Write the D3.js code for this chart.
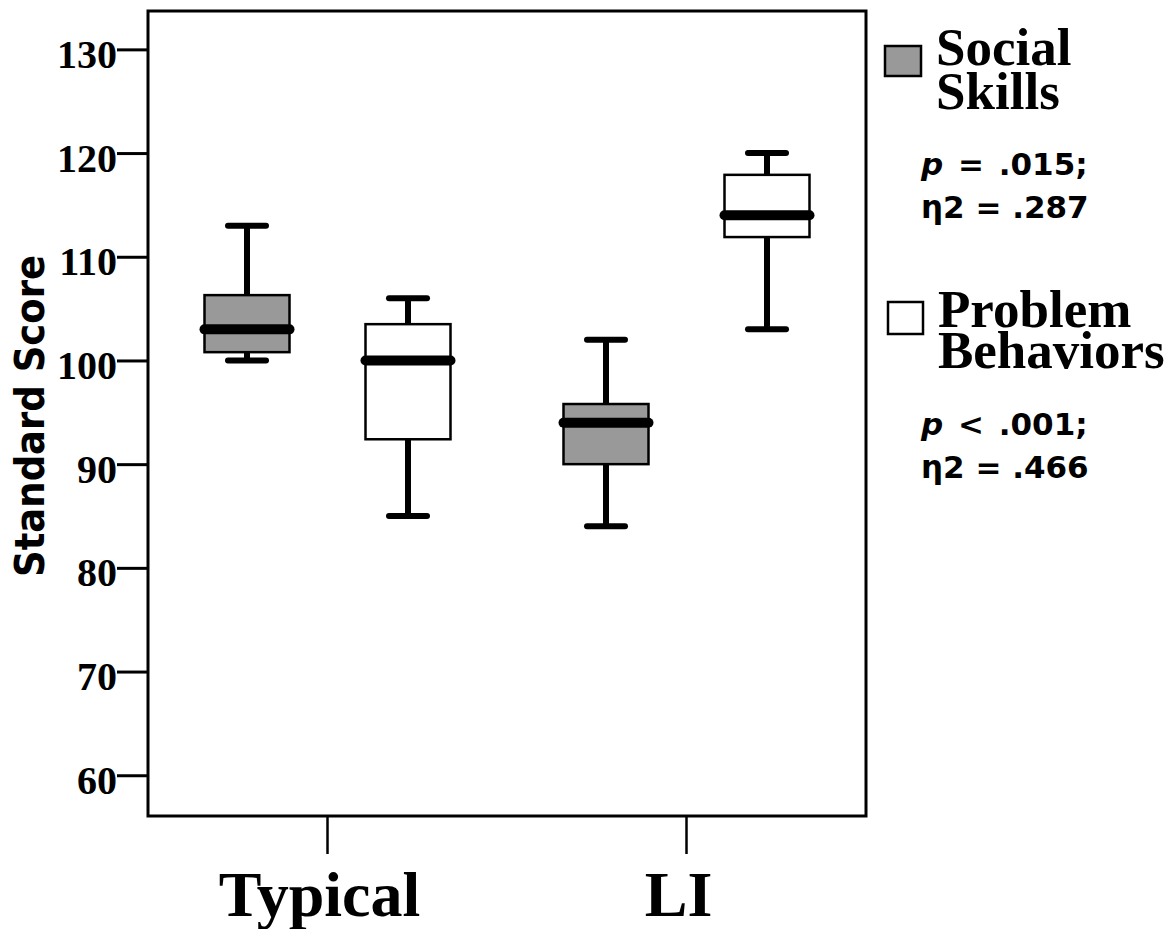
<!DOCTYPE html>
<html>
<head>
<meta charset="utf-8">
<script src="https://cdn.jsdelivr.net/npm/d3@7"></script>
<style>
  html, body { margin: 0; padding: 0; background: #fff; }
  svg { display: block; }
</style>
</head>
<body>
<svg id="chart" width="1166" height="929"></svg>
<script>
// ---- data ----
const groups = ["Typical", "LI"];
const series = ["Social Skills", "Problem Behaviors"];
const yTicks = [60, 70, 80, 90, 100, 110, 120, 130];

const socialMin = [100, 84];
const socialQ1 = [100.8, 90];
const socialMedian = [103, 94];
const socialQ3 = [106.3, 95.8];
const socialMax = [113, 102];

const problemMin = [85, 103];
const problemQ1 = [92.4, 111.9];
const problemMedian = [100, 114];
const problemQ3 = [103.5, 117.9];
const problemMax = [106, 120];

const legendLines = [["Social", "Skills"], ["Problem", "Behaviors"]];
const statsP = ["= .015;", "< .001;"];
const statsEta = ["η2 = .287", "η2 = .466"];
const fills = ["#999999", "#ffffff"];

// ---- build ----
const svg = d3.select("#chart");
const plotLeft = 148, plotRight = 866, plotTop = 11, plotBottom = 816;

const x = d3.scaleBand().domain(groups).range([plotLeft, plotRight]);
const xs = d3.scalePoint().domain(series).range([-80.5, 80.5]);
const y = d3.scaleLinear().domain([56.07, 133.7]).range([plotBottom, plotTop]);
const boxW = 85;

const stats = [];
groups.forEach((g, i) => {
  stats.push({g, s: series[0], min: socialMin[i], q1: socialQ1[i], med: socialMedian[i], q3: socialQ3[i], max: socialMax[i], fill: fills[0]});
  stats.push({g, s: series[1], min: problemMin[i], q1: problemQ1[i], med: problemMedian[i], q3: problemQ3[i], max: problemMax[i], fill: fills[1]});
});

// frame
svg.append("rect")
  .attr("x", plotLeft).attr("y", plotTop)
  .attr("width", plotRight - plotLeft).attr("height", plotBottom - plotTop)
  .attr("fill", "none").attr("stroke", "#000").attr("stroke-width", 3);

const serif = "'Liberation Serif', 'Times New Roman', serif";
const sans = "'DejaVu Sans', Verdana, sans-serif";

// y axis
const yAxis = svg.append("g")
  .attr("transform", `translate(${plotLeft},0)`)
  .call(d3.axisLeft(y).tickValues(yTicks).tickSize(31).tickPadding(0).tickFormat(d3.format("d")));
yAxis.select(".domain").remove();
yAxis.selectAll(".tick line").attr("stroke", "#000").attr("stroke-width", 3);
yAxis.selectAll(".tick text")
  .attr("x", -31).attr("dy", "0.45em")
  .attr("fill", "#000")
  .style("font-family", serif)
  .style("font-weight", "bold").style("font-size", "40px");

// x axis
const xAxis = svg.append("g")
  .attr("transform", `translate(0,${plotBottom})`)
  .call(d3.axisBottom(x).tickSize(38).tickPadding(0));
xAxis.select(".domain").remove();
xAxis.selectAll(".tick line").attr("stroke", "#000").attr("stroke-width", 2.5);
xAxis.selectAll(".tick text")
  .attr("x", -8).attr("y", 100).attr("dy", 0)
  .attr("fill", "#000")
  .style("font-family", serif)
  .style("font-weight", "bold").style("font-size", "64px");

// y axis title
svg.append("text")
  .attr("transform", `translate(44,416) rotate(-90)`)
  .attr("text-anchor", "middle")
  .attr("textLength", 322).attr("lengthAdjust", "spacingAndGlyphs")
  .style("font-family", sans)
  .style("font-weight", "bold").style("font-size", "41px")
  .text("Standard Score");

// boxes
const bx = d => x(d.g) + x.bandwidth() / 2 + xs(d.s);
const boxes = svg.append("g").selectAll("g").data(stats).join("g");
boxes.append("line")
  .attr("x1", bx).attr("x2", bx)
  .attr("y1", d => y(d.min)).attr("y2", d => y(d.max))
  .attr("stroke", "#000").attr("stroke-width", 6);
boxes.selectAll(".cap").data(d => [d.min, d.max].map(v => ({c: bx(d), v})))
  .join("line").attr("class", "cap")
  .attr("x1", d => d.c - 19).attr("x2", d => d.c + 19)
  .attr("y1", d => y(d.v)).attr("y2", d => y(d.v))
  .attr("stroke", "#000").attr("stroke-width", 6).attr("stroke-linecap", "round");
boxes.append("rect")
  .attr("x", d => bx(d) - boxW / 2).attr("width", boxW)
  .attr("y", d => y(d.q3)).attr("height", d => y(d.q1) - y(d.q3))
  .attr("fill", d => d.fill).attr("stroke", "#000").attr("stroke-width", 2.5);
boxes.append("line")
  .attr("x1", d => bx(d) - boxW / 2).attr("x2", d => bx(d) + boxW / 2)
  .attr("y1", d => y(d.med)).attr("y2", d => y(d.med))
  .attr("stroke", "#000").attr("stroke-width", 10).attr("stroke-linecap", "round");

// legend
const legendSq = [{x: 885, y: 46, w: 36, h: 30}, {x: 888, y: 302, w: 35, h: 32}];
const legendText = [{x: 936, y: 65, dy: 44}, {x: 938, y: 327, dy: 41}];
const statsPos = [{y: 175}, {y: 435}];

series.forEach((s, i) => {
  svg.append("rect")
    .attr("x", legendSq[i].x).attr("y", legendSq[i].y)
    .attr("width", legendSq[i].w).attr("height", legendSq[i].h)
    .attr("fill", fills[i]).attr("stroke", "#000").attr("stroke-width", 2.5);
  const lt = svg.append("text")
    .attr("x", legendText[i].x).attr("y", legendText[i].y)
    .style("font-family", serif).style("font-weight", "bold").style("font-size", "53px");
  legendLines[i].forEach((line, j) => {
    lt.append("tspan")
      .attr("x", legendText[i].x).attr("dy", j === 0 ? 0 : legendText[i].dy)
      .text(line);
  });
  const st = svg.append("text")
    .attr("x", 921).attr("y", statsPos[i].y)
    .style("font-family", sans).style("font-weight", "bold").style("font-size", "31px");
  st.append("tspan").style("font-style", "italic").text("p");
  st.append("tspan").style("word-spacing", "4px").text(" " + statsP[i]);
  st.append("tspan").attr("x", 921).attr("dy", 43).text(statsEta[i]);
});
</script>
</body>
</html>
